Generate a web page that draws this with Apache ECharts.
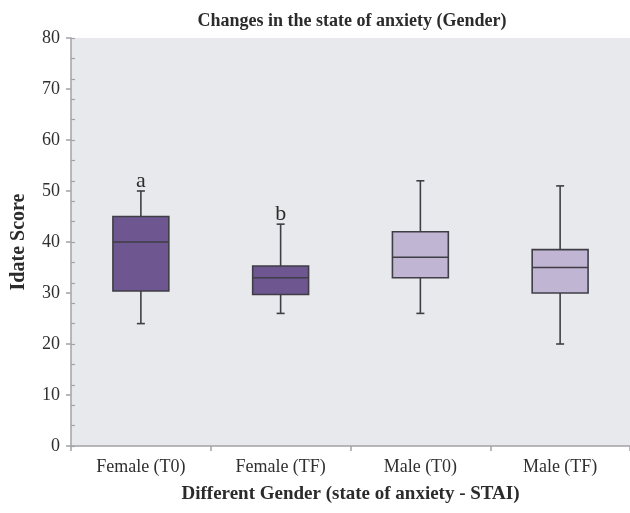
<!DOCTYPE html>
<html>
<head>
<meta charset="utf-8">
<script src="https://cdn.jsdelivr.net/npm/echarts@6/dist/echarts.min.js"></script>
<style>
  html, body { margin: 0; padding: 0; background: #fff; }
</style>
</head>
<body>
<div id="chart" style="width: 630px;height: 513px;"></div>
<script>
// 数据
const categories = ['Female (T0)', 'Female (TF)', 'Male (T0)', 'Male (TF)']
const lowValues = [24, 26, 26, 20]
const q1Values = [30.4, 29.7, 33, 30]
const medianValues = [40, 33, 37, 35]
const q3Values = [45, 35.3, 42, 38.5]
const highValues = [50, 43.5, 52, 51]
const letters = ['a', 'b', '', '']
const yTicks = [0, 10, 20, 30, 40, 50, 60, 70, 80]

const fillColors = ['#6e5691', '#6e5691', '#c0b5d2', '#c0b5d2']
const lineColor = '#3f3e46'
const serif = '"Liberation Serif", "DejaVu Serif", serif'

const boxData = categories.map((c, i) => [i, lowValues[i], q1Values[i], medianValues[i], q3Values[i], highValues[i]])

const renderBox = (params, api) => {
  const idx = api.value(0)
  const low = api.coord([idx, api.value(1)])
  const q1 = api.coord([idx, api.value(2)])
  const med = api.coord([idx, api.value(3)])
  const q3 = api.coord([idx, api.value(4)])
  const high = api.coord([idx, api.value(5)])
  const band = api.size([1, 0])[0]
  const half = band * 0.2
  const cap = 4
  const x = low[0]
  const line = { stroke: lineColor, lineWidth: 1.6 }
  const children = [
    { type: 'line', shape: { x1: x, y1: q1[1], x2: x, y2: low[1] }, style: line },
    { type: 'line', shape: { x1: x, y1: q3[1], x2: x, y2: high[1] }, style: line },
    { type: 'line', shape: { x1: x - cap, y1: low[1], x2: x + cap, y2: low[1] }, style: line },
    { type: 'line', shape: { x1: x - cap, y1: high[1], x2: x + cap, y2: high[1] }, style: line },
    {
      type: 'rect',
      shape: { x: x - half, y: q3[1], width: half * 2, height: q1[1] - q3[1] },
      style: { fill: fillColors[idx], stroke: lineColor, lineWidth: 1.6 }
    },
    { type: 'line', shape: { x1: x - half, y1: med[1], x2: x + half, y2: med[1] }, style: line }
  ]
  if (letters[idx]) {
    children.push({
      type: 'text',
      style: {
        text: letters[idx],
        x: x,
        y: high[1] + 1,
        align: 'center',
        verticalAlign: 'bottom',
        fill: '#2b2b2b',
        font: '22px ' + serif
      }
    })
  }
  return { type: 'group', children: children }
}

const chart = echarts.init(document.getElementById('chart'))
chart.setOption({
  animation: false,
  title: {
    text: 'Changes in the state of anxiety (Gender)',
    left: 347,
    textAlign: 'center',
    top: 7,
    textStyle: { fontFamily: serif, fontSize: 18, fontWeight: 'bold', color: '#2b2b2b' }
  },
  grid: {
    show: true,
    left: 71,
    right: 0,
    top: 38,
    bottom: 67,
    outerBoundsMode: 'none',
    containLabel: false,
    backgroundColor: '#e8e9ec',
    borderWidth: 0
  },
  xAxis: {
    type: 'category',
    data: categories,
    boundaryGap: true,
    name: 'Different Gender (state of anxiety - STAI)',
    nameLocation: 'middle',
    nameGap: 39,
    nameTextStyle: { fontFamily: serif, fontSize: 19, fontWeight: 'bold', color: '#2b2b2b' },
    axisLine: { show: true, lineStyle: { color: '#a3a3a6', width: 1.5 } },
    axisTick: { show: true, length: 5, lineStyle: { color: '#a3a3a6', width: 1.5 } },
    axisLabel: { fontFamily: serif, fontSize: 18, color: '#2f2f2f', margin: 12 },
    splitLine: { show: false }
  },
  yAxis: [
    {
      type: 'value',
      min: 0,
      max: 80,
      interval: 10,
      name: 'Idate Score',
      nameLocation: 'middle',
      nameGap: 42,
      nameTextStyle: { fontFamily: serif, fontSize: 20, fontWeight: 'bold', color: '#2b2b2b' },
      axisLine: { show: true, lineStyle: { color: '#a3a3a6', width: 1.5 } },
      axisTick: { show: true, length: 5, lineStyle: { color: '#a3a3a6', width: 1.5 } },
      axisLabel: {
        fontFamily: serif, fontSize: 18, color: '#2f2f2f', margin: 11,
        formatter: v => (yTicks.includes(v) ? String(v) : '')
      },
      splitLine: { show: false }
    },
    {
      // 次刻度 每4一格 朝内
      type: 'value',
      min: 0,
      max: 80,
      interval: 4,
      position: 'left',
      axisLine: { show: false },
      axisTick: { show: true, inside: true, length: 4, lineStyle: { color: '#a3a3a6', width: 1.2 } },
      axisLabel: { show: false },
      splitLine: { show: false }
    }
  ],
  series: [
    {
      type: 'custom',
      renderItem: renderBox,
      encode: { x: 0, y: [1, 2, 3, 4, 5] },
      data: boxData
    }
  ]
})
</script>
</body>
</html>
